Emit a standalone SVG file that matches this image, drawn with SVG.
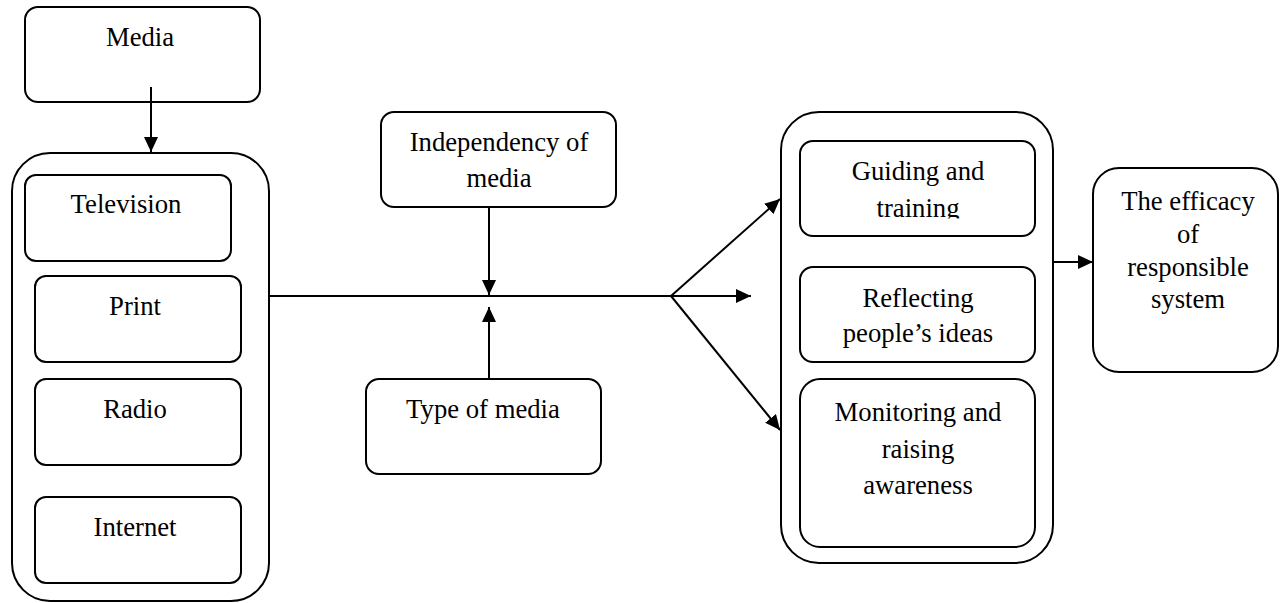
<svg xmlns="http://www.w3.org/2000/svg" width="1280" height="603" viewBox="0 0 1280 603">
<style>
.box{fill:#fff;stroke:#000;stroke-width:2}
.t{font-family:"Liberation Serif","Times New Roman",serif;font-size:26.7px;fill:#000;text-anchor:middle}
.c{fill:none;stroke:#000;stroke-width:2}
</style>
<defs>
<marker id="ah" markerUnits="userSpaceOnUse" markerWidth="15" markerHeight="14" viewBox="0 0 15 14" refX="15" refY="7" orient="auto">
<path d="M0,0 L15,7 L0,14 z" fill="#000"/>
</marker>
<clipPath id="clipG"><rect x="800" y="141" width="235" height="77.5"/></clipPath>
</defs>
<rect width="1280" height="603" fill="#fff"/>

<g id="media">
<rect class="box" x="25" y="7" width="235" height="95" rx="13"/>
<text class="t" x="140" y="46">Media</text>
</g>

<g id="media-types">
<rect class="box" x="12" y="153" width="257" height="448" rx="38"/>
</g>
<g id="television">
<rect class="box" x="25" y="175" width="206" height="86" rx="11"/>
<text class="t" x="126" y="213">Television</text>
</g>
<g id="print">
<rect class="box" x="35" y="276" width="206" height="86" rx="11"/>
<text class="t" x="135" y="315">Print</text>
</g>
<g id="radio">
<rect class="box" x="35" y="379" width="206" height="86" rx="11"/>
<text class="t" x="135" y="418">Radio</text>
</g>
<g id="internet">
<rect class="box" x="35" y="497" width="206" height="86" rx="11"/>
<text class="t" x="135" y="536">Internet</text>
</g>

<g id="independency">
<rect class="box" x="381" y="112" width="235" height="95" rx="13"/>
<text class="t" x="499" y="151">Independency of</text>
<text class="t" x="499" y="187">media</text>
</g>

<g id="type-of-media">
<rect class="box" x="366" y="379" width="235" height="95" rx="13"/>
<text class="t" x="483" y="418">Type of media</text>
</g>

<g id="roles">
<rect class="box" x="781" y="112" width="272" height="451" rx="38"/>
</g>
<g id="guiding">
<rect class="box" x="800" y="141" width="235" height="95" rx="13"/>
<g clip-path="url(#clipG)">
<text class="t" x="918" y="180">Guiding and</text>
<text class="t" x="918" y="217">training</text>
</g>
</g>
<g id="reflecting">
<rect class="box" x="800" y="267" width="235" height="95" rx="13"/>
<text class="t" x="918" y="307">Reflecting</text>
<text class="t" x="918" y="342">people’s ideas</text>
</g>
<g id="monitoring">
<rect class="box" x="800" y="379" width="235" height="168" rx="20"/>
<text class="t" x="918" y="421">Monitoring and</text>
<text class="t" x="918" y="458">raising</text>
<text class="t" x="918" y="494">awareness</text>
</g>

<g id="efficacy">
<rect class="box" x="1093" y="168" width="185" height="204" rx="26"/>
<text class="t" x="1188" y="210">The efficacy</text>
<text class="t" x="1188" y="243">of</text>
<text class="t" x="1188" y="276">responsible</text>
<text class="t" x="1188" y="308">system</text>
</g>

<g id="connectors">
<line class="c" x1="151" y1="87" x2="151" y2="152" marker-end="url(#ah)"/>
<line class="c" x1="269" y1="296" x2="671" y2="296"/>
<line class="c" x1="489" y1="207" x2="489" y2="295" marker-end="url(#ah)"/>
<line class="c" x1="489" y1="379" x2="489" y2="307" marker-end="url(#ah)"/>
<line class="c" x1="671" y1="296" x2="751" y2="296" marker-end="url(#ah)"/>
<line class="c" x1="671" y1="296" x2="780" y2="199" marker-end="url(#ah)"/>
<line class="c" x1="671" y1="296" x2="780" y2="430" stroke-width="1.6" marker-end="url(#ah)"/>
<line class="c" x1="1053" y1="262" x2="1093" y2="262" marker-end="url(#ah)"/>
</g>
</svg>
